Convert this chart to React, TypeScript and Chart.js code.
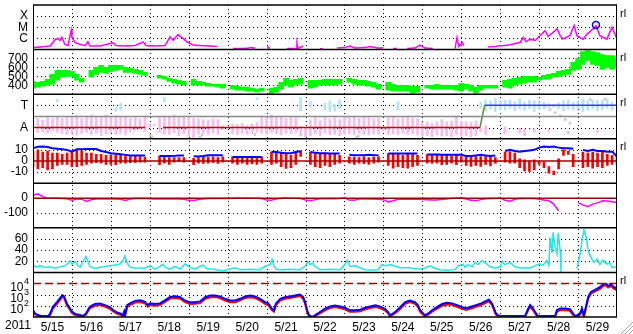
import { useEffect, useRef } from 'react';
import { Chart, registerables } from 'chart.js';
Chart.register(...registerables);

const FONT = '"Liberation Sans", Arial, sans-serif';

// ---- axis labels / ticks ----
const dayLabels = ['5/15','5/16','5/17','5/18','5/19','5/20','5/21','5/22','5/23','5/24','5/25','5/26','5/27','5/28','5/29'];
const yearLabel = '2011';
const STEP = 1 / 8; // 3-hour samples (days)

const xrayTicks = [1e-6, 1e-5, 1e-4];
const xrayTickLabels = ['C', 'M', 'X'];
const speedTicks = [400, 500, 600, 700];
const phiTicks = [135, 315];
const phiTickLabels = ['A', 'T'];
const phiBoundary = 225;
const bTicks = [-10, 0, 10];
const bZero = 0;
const dstTicks = [-100, 0];
const dstZero = 0;
const densTicks = [20, 40, 60];
const eTicks = [100, 1000, 10000];
const eAlert = 10000;
const panelMark = 'rl';

// ---- GOES X-ray flux [day, W/m2] ----
const xray = [
[0.00,1.5e-7],[0.18,1.7e-7],[0.31,1.87e-7],[0.44,2.1e-7],[0.57,8.1e-7],[0.64,1.0e-6],[0.69,6.6e-7],[0.74,1.23e-6],[0.82,2.85e-7],[0.90,2.3e-7],[0.98,5.7e-6],[1.00,1.23e-6],[1.08,4.3e-7],[1.21,2.85e-7],[1.34,2.3e-7],[1.41,5.0e-7],[1.46,2.1e-7],[1.72,2.1e-7],[1.98,3.5e-7],[2.05,4.3e-7],[2.13,2.3e-7],[2.36,2.1e-7],[2.62,2.3e-7],[2.83,4.8e-7],[2.90,2.3e-7],[3.13,2.1e-7],[3.39,2.3e-7],[3.52,1.43e-6],[3.60,6.6e-7],[3.72,2.2e-6],[3.85,1.0e-6],[3.98,4.3e-7],[4.11,2.6e-7],[4.29,2.3e-7],[4.55,2.1e-7],[4.73,1.87e-7],[4.74,null],[5.14,1.23e-7],[5.45,1.23e-7],[5.63,1.5e-7],[5.70,1.23e-7],[5.71,null],[6.02,1.3e-7],[6.04,1.7e-7],[6.06,1.3e-7],[6.07,null],[6.52,1.23e-7],[6.76,1.23e-7],[6.78,3.7e-7],[6.81,1.23e-7],[6.94,2.17e-7],[6.95,null],[7.37,1.11e-7],[7.45,1.23e-7],[7.46,null],[7.81,1.37e-7],[8.01,1.5e-7],[8.14,2.1e-7],[8.27,1.37e-7],[8.53,1.5e-7],[8.66,1.87e-7],[8.84,1.37e-7],[8.99,1.37e-7],[9.00,null],[9.25,1.23e-7],[9.35,1.23e-7],[9.36,null],[9.61,1.23e-7],[9.81,1.37e-7],[9.94,2.46e-7],[10.07,1.37e-7],[10.27,1.23e-7],[10.28,null],[10.84,1.23e-7],[10.89,1.23e-6],[10.94,1.87e-7],[11.02,4.3e-7],[11.07,2.3e-7],[11.08,null],[11.69,1.7e-7],[11.87,1.87e-7],[12.00,2.17e-7],[12.12,2.3e-7],[12.25,2.67e-7],[12.38,3.5e-7],[12.51,4.3e-7],[12.59,1.23e-6],[12.66,5.0e-7],[12.77,8.6e-7],[12.90,6.6e-7],[13.02,1.77e-6],[13.15,5.0e-6],[13.23,1.5e-6],[13.36,3.5e-6],[13.46,7.0e-6],[13.54,1.87e-6],[13.61,8.6e-7],[13.79,1.77e-6],[13.90,1.43e-5],[13.97,1.77e-6],[14.13,8.6e-7],[14.23,2.46e-6],[14.38,7.0e-6],[14.46,1.43e-5],[14.56,1.77e-6],[14.74,8.6e-7],[14.87,1.0e-5],[15.00,8.6e-7]
];
const flare = [[14.46, 1.6e-5]];

// ---- solar wind speed, 3-hourly low/high (km/s) ----
const speedLo = [367,378,389,400,411,456,489,500,500,456, 433,null,489,522,544,533,556,567,578,544, 544,533,522,511,null,null,478,467,444,422, 411,400,null,400,400,400,389,389,378,367, null,356,344,344,333,333,322,333,null,300, 322,356,400,378,400,411,null,367,378,400, 400,400,400,411,null,433,411,400,400,389, 378,356,null,344,333,333,333,333,311,322, null,367,356,356,356,356,356,344,333,356, 333,311,344,367,367,367,null,378,367,400, 411,422,433,433,456,467,467,489,500,511, 522,567,578,633,678,633,622,578,600,578, 600];
const speedHi = [444,433,444,467,522,567,567,567,556,522, 478,null,567,600,622,600,622,622,622,600, 589,578,567,544,null,null,511,500,478,467, 456,444,null,467,444,433,422,411,411,411, null,400,389,378,378,367,356,367,null,367, 378,433,478,456,467,478,null,456,456,456, 467,467,467,467,null,478,467,456,456,444, 433,411,null,433,411,400,400,400,389,389, null,400,400,411,400,400,400,400,422,411, 400,378,400,400,400,400,null,456,467,478, 489,500,500,500,489,511,522,533,556,567, 578,656,700,778,789,778,767,744,733,733, 711];

// ---- IMF angle (deg), 3-hourly low/high: away (pink) and toward (light blue) ----
const awayLo = [110,95,100,90,105,95,85,80,90,75, 85,95,80,90,70,85,95,80,90,75, 100,110,120,105,140,150,95,85,80,95, 70,85,60,50,80,85,75,90,80,120, null,85,77,90,80,85,95,90,80,95, 85,75,90,85,95,65,60,70,85,65, 90,75,80,70,80,85,77,90,80,75, 85,80,110,80,85,77,90,80,85,75, 65,70,61,75,65,70,61,75,65,70, 61,70,100,80,null,null,null,85,null,null, 90,70,null,95,null,null,100,null,null,null, 85,null,null,null,null,null,95,null,null,null, null];
const awayHi = [200,210,195,215,205,220,210,215,225,230, 210,220,235,215,225,237,220,230,215,225, 210,215,205,220,165,160,215,230,220,235, 215,225,220,210,205,200,195,205,200,150, null,165,160,170,150,165,175,230,215,237, 220,225,210,230,215,140,130,200,215,190, 221,205,215,200,221,215,225,210,221,215, 205,210,140,215,221,205,215,221,210,205, 175,181,170,180,200,181,190,221,185,181, 175,190,130,150,null,null,null,140,null,null, 130,120,null,125,null,null,120,null,null,null, 105,null,null,null,null,null,115,null,null,null, null];
const towardLo = [null,null,null,null,null,345,null,null,null,null, null,null,null,null,null,null,null,265,275,null, null,null,null,null,null,null,null,345,null,null, null,null,null,null,null,null,null,null,null,null, null,null,null,null,null,null,360,null,null,null, null,null,null,null,null,270,null,300,null,null, 280,265,270,290,null,null,null,null,null,null, null,null,null,null,null,280,null,null,null,null, null,null,null,null,null,null,null,null,null,null, null,null,290,270,285,265,280,275,290,270, 285,275,290,265,280,285,295,300,290,270, 285,275,290,265,275,285,270,280,290,275, 285];
const towardHi = [null,null,null,null,null,365,null,null,null,null, null,null,null,null,null,null,null,300,330,null, null,null,null,null,null,null,null,380,null,null, null,null,null,null,null,null,null,null,null,null, null,null,null,null,null,null,375,null,null,null, null,null,null,null,null,380,null,345,null,null, 330,350,320,360,null,null,null,null,null,null, null,null,null,null,null,345,null,null,null,null, null,null,null,null,null,null,null,null,null,null, null,null,340,360,350,370,345,355,360,345, 365,340,355,350,345,340,330,325,335,350, 360,340,345,365,350,360,345,355,365,340, 350];
const angleOther = [[3.01,70],[3.06,60],[4.29,60],[4.34,75],[5.70,77],[6.86,285],[8.30,53],[8.35,65],[13.02,315],[13.15,300],[13.28,280],[13.41,255],[13.54,230],[13.67,200],[13.79,170],[14.13,350],[14.31,360],[14.49,345],[14.69,365]];
const sectorAway = [[0, 2.88], [3.34, 11.48]];
const sectorFlip = [11.48, 11.60];
const sectorToward = [[11.60, 15]];

// ---- IMF Bt (3-hourly) and Bz low/high (nT) ----
const bt = [11.4,12.9,13,12.5,11.4,11,10.5,10,8.4,10.5, 10.5,10.8,10.8,10.8,9,8,7,6.5,6,5.5, 5,4.9,4.9,4.9,null,null,4.4,4.4,4.4,4.6, 4.9,4.9,null,4.2,4,4.5,5.2,5.2,5.2,5.2, null,3.7,3.7,3.7,3.7,3.7,3.7,3.7,null,8.2, 8,7.5,7,7,8,8.7,null,8,7.5,7, 7,6.7,6.7,6.7,null,5.5,5.2,5.2,5.2,5.5, 5.2,5.2,null,6.7,6.7,6.7,6.7,6.7,6.7,6.7, null,5.8,5.8,5.8,5.5,5.5,5.5,5.5,5.5,4.5, 4.5,5,5.5,5,4.5,5,null,9,10,9, 8.4,9,9.5,10,12,12.9,12.5,12.9,12,11.4, 11.4,11,null,10,9,10,9,9,8.4,8.4, 4];
const bzLo = [-5,-7,-6,-8,-7,-4,-3,-3,-5,-5, -4,-3,-2,-1.5,-2,-3,-3,-3.4,-2,-2, -1.5,-1.6,-1,-1,null,null,-3.4,-2,-3,-1, -0.5,-1,null,-3.4,-2,-2.2,-2,-1.5,-2.2,-1, null,-2,-3,-2,-3,-2.5,-3.1,-2,null,-3, -2,-5,-6.7,-6,-3,4,null,-3,-5,-6, -4,-5,-3,-2,null,-2,-3.1,-2,-2.5,-3, -2,-1,null,-4,-6.5,-5,-6,-6.5,-5,-4, null,-2,-2.2,-2,-3.4,-3,-2,-3.4,-1,-4, -4.9,-4,-4.9,-3,-4.5,-2,null,-1,-2,-2, -6,-9,-9.3,-8,-3,-6,-11,-12.3,-7,5, 6,-5,null,-6,-5,-6.4,-5,-6,-4,-3, -3];
const bzHi = [9,10,8,9,7,7,6,7,8,10, 9,7,7,6,6,5,5.5,5,5,4.5, 4,4.4,4,3.5,null,null,4.4,4,3,3, 3,3,null,2.5,3,3.7,3.5,3.7,3,3.7, null,3.7,3.5,3,3.7,3,3.5,3.7,null,8, 7,7.5,6,5,8,9,null,8,7,6, 7,6,6.7,5,null,3.7,3.5,3,3.7,3, 3.5,3.7,null,6.7,6,6.7,5,6.7,6,5, null,5.8,5.8,5,5.5,5,4.5,5.5,4,4, 3.5,4,4,4,3.5,3,null,8,8.4,7, 2,1,0,1,0,-1,-5,-9,2,10, 9,6,null,8,7,8,7,8,6,5, 4];

// ---- Dst (nT), 3-hourly ----
const dst = [20,29,10,0,0,-1,-2,-4,-14,-8, -7,-22,-9,-5,-4,-5,-5,-6,-7,-15, -6,-3,-3,-3,-4,-6,-6,-6,-5,-5, -5,-8,-15,-16,-9,-6,-3,-3,-3,-2, -2,0,1,0,1,0,0,-2,-12,-14, -5,0,1,0,0,-2,-12,-17,-10,-4, -4,-3,-4,-3,2,-12,-14,-6,-6,-5, -6,-7,-10,-25,-18,-8,-7,-6,-7,-8, -9,-10,-12,-12,-8,-6,-1,0,3,-6, -14,-18,-10,-4,-3,-2,0,-14,-20,-8, -3,-2,-2,-3,-8,-12,-18,-40,-85,null, null,null,-30,-45,-58,-40,-32,-18,-20,-25, -30];

// ---- proton density (/cc) [day, value] ----
const density = [
[0.00,14],[0.08,9.5],[0.18,12],[0.31,9],[0.44,10],[0.57,7.7],[0.69,10],[0.82,12],[0.90,16.6],[0.95,21],
[1.00,14.8],[1.08,19.5],[1.16,12],[1.21,9.5],[1.28,19.5],[1.36,28.4],[1.41,19.5],[1.46,10.7],[1.59,7.1],[1.72,9.5],
[1.85,10.7],[1.98,12],[2.11,13.5],[2.23,15],[2.31,21],[2.36,30],[2.41,18],[2.49,9.5],[2.62,8],[2.75,8],
[2.88,8],[3.01,12],[3.13,6],[3.26,10.7],[3.34,15],[3.39,9.5],[3.52,6],[3.65,10.7],[3.78,6],[3.90,15],
[4.03,9],[4.16,6],[4.29,11],[4.37,13],[4.47,6],[4.60,6],[4.80,4],[4.93,3.5],[5.06,6],[5.19,8.5],
[5.32,5],[5.57,5.5],[5.83,5],[5.96,11],[6.09,14],[6.14,23.7],[6.19,11],[6.24,6],[6.34,5],[6.60,5.5],
[6.86,5],[6.99,11],[7.06,19.5],[7.12,14],[7.17,17],[7.24,11],[7.37,5],[7.63,5.5],[7.89,5],[8.01,14],
[8.07,22],[8.14,11],[8.27,12],[8.40,8.5],[8.53,5],[8.71,4.5],[8.86,5],[8.96,14],[9.07,12],[9.17,14],
[9.30,11],[9.43,8.5],[9.68,8.5],[9.81,6],[9.94,6],[10.07,8],[10.20,12],[10.33,7],[10.45,5],[10.66,4],
[10.84,5],[10.92,12],[11.05,15],[11.10,9],[11.17,14],[11.28,10],[11.35,18],[11.43,14],[11.53,21],[11.64,16],
[11.74,10],[11.87,8],[12.00,10],[12.05,20],[12.12,14],[12.25,18],[12.38,10],[12.51,8],[12.64,8.5],[12.77,8],
[12.90,12],[13.02,15.4],[13.10,13],[13.20,21],[13.25,12],[13.28,63],[13.33,35],[13.36,72],[13.41,45],[13.46,33],
[13.49,71],[13.54,40],[13.56,1],[13.57,null],[13.97,7],[14.00,16],[14.05,33],[14.10,57],[14.15,76],[14.21,63],
[14.26,39],[14.33,27],[14.41,18],[14.49,24],[14.56,14],[14.64,22],[14.74,15],[14.82,17],[14.87,9],[15.00,10]
];

// ---- electron flux >2MeV [day, satellite A, satellite B] ----
const electrons = [
[0.00,42,32],[0.05,21,17],[0.13,15,13],[0.23,12,11],[0.39,12,11],[0.44,20,15],[0.51,83,58],[0.62,230,160],[0.69,460,330],[0.75,910,640],
[0.80,700,500],[0.87,166,120],[0.95,59,42],[1.00,30,23],[1.08,19,15],[1.21,15,12],[1.28,12,11],[1.36,21,16],[1.46,83,60],[1.59,145,100],
[1.72,166,118],[1.85,117,85],[1.98,74,52],[2.06,42,31],[2.16,25,19],[2.24,21,16],[2.31,15,12],[2.34,30,22],[2.36,12,11],[2.42,117,82],
[2.49,166,118],[2.62,280,200],[2.75,316,220],[2.88,230,165],[2.95,117,85],[3.01,166,120],[3.13,145,102],[3.26,166,118],[3.39,316,225],[3.52,630,450],
[3.65,710,500],[3.78,600,430],[3.90,300,215],[4.03,214,150],[4.16,214,155],[4.29,250,180],[4.42,600,420],[4.55,850,600],[4.68,850,610],[4.80,700,500],
[4.93,430,300],[5.06,300,215],[5.19,300,210],[5.32,430,310],[5.45,700,500],[5.57,850,600],[5.70,700,500],[5.83,430,305],[5.96,214,150],[6.04,166,118],
[6.14,55,40],[6.19,40,30],[6.24,166,115],[6.35,430,300],[6.47,600,430],[6.60,700,500],[6.73,850,610],[6.86,1050,750],[6.94,600,420],[6.99,214,150],
[7.04,40,30],[7.09,14,12],[7.17,10,10],[7.24,14,12],[7.37,28,21],[7.50,55,40],[7.63,89,63],[7.76,110,78],[7.89,89,64],[8.01,68,48],
[8.14,40,30],[8.27,40,29],[8.40,45,33],[8.53,68,48],[8.66,89,63],[8.79,110,78],[8.91,89,63],[9.04,55,40],[9.12,28,21],[9.17,14,12],
[9.25,21,16],[9.35,40,29],[9.43,74,52],[9.56,214,150],[9.68,300,215],[9.81,214,152],[9.89,110,78],[9.94,40,30],[10.02,21,16],[10.07,14,12],
[10.15,21,16],[10.25,40,30],[10.38,80,57],[10.51,145,103],[10.63,186,132],[10.76,166,118],[10.89,117,83],[10.99,83,60],[11.12,59,42],[11.25,83,58],
[11.38,117,84],[11.51,166,118],[11.64,280,200],[11.71,355,250],[11.79,166,118],[11.84,59,42],[11.89,21,16],[11.94,15,12],[12.00,12,11],[12.25,12,11],
[12.51,12,11],[12.64,12,11],[12.72,59,42],[12.77,117,82],[12.84,59,42],[12.92,21,16],[12.97,12,11],[13.02,12,11],[13.23,12,11],[13.41,12,11],
[13.46,42,30],[13.54,59,42],[13.67,59,41],[13.79,50,36],[13.87,21,16],[13.92,12,11],[14.00,15,12],[14.05,21,16],[14.10,59,42],[14.15,12,11],
[14.21,117,80],[14.26,630,430],[14.33,1780,1250],[14.41,2500,1800],[14.49,3550,2500],[14.57,5000,3500],[14.64,8500,6000],[14.72,10000,7000],[14.77,6300,4400],[14.85,8500,6000],
[14.92,5000,3500],[15.00,3550,2500]
];

// ---------------- helpers ----------------
const band = (lo, hi) => lo.map((l, i) => (l == null || hi[i] == null ? null : { x: i * STEP, y: [l, hi[i]] })).filter(Boolean);
const series3h = (vals) => vals.map((v, i) => ({ x: i * STEP, y: v }));
const pairs = (rows, col = 1) => rows.map((r) => ({ x: r[0], y: r[col] }));
const segments = (segs, level) => {
  const out = [];
  segs.forEach(([a, b], k) => {
    if (k > 0) out.push({ x: a, y: null });
    out.push({ x: a, y: level }, { x: b, y: level });
  });
  return out;
};

const lineDs = (label, data, yAxisID, color, width = 1.5, extra = {}) => ({
  type: 'line', label, data, yAxisID, borderColor: color, backgroundColor: color,
  borderWidth: width, pointRadius: 0, pointHoverRadius: 0, tension: 0, spanGaps: false, fill: false, ...extra,
});
const barDs = (label, data, yAxisID, color, thickness) => ({
  type: 'bar', label, data, yAxisID, backgroundColor: color, borderWidth: 0,
  grouped: false, barThickness: thickness,
});

const yScale = (ticks, extra = {}) => ({
  position: 'left', stack: 'panels', stackWeight: 1, offset: false,
  grid: { display: false, drawTicks: false },
  border: { display: false },
  ticks: { autoSkip: false, padding: 5, color: '#000', font: { family: FONT, size: 12 } },
  afterBuildTicks: (s) => { s.ticks = ticks.map((value) => ({ value })); },
  afterFit: (s) => { s.width = 33; s.paddingTop = 0; s.paddingBottom = 0; },
  ...extra,
});

const panelIds = ['yX', 'ySpeed', 'yPhi', 'yB', 'yDst', 'yN', 'yE'];
const dottedLevels = {
  yX: xrayTicks, ySpeed: speedTicks, yPhi: phiTicks,
  yB: bTicks.filter((v) => v !== bZero), yDst: dstTicks.filter((v) => v !== dstZero),
  yN: densTicks, yE: eTicks.filter((v) => v !== eAlert),
};
const refLines = [
  { id: 'yPhi', value: phiBoundary, color: '#8a8a8a', dash: [] },
  { id: 'yB', value: bZero, color: '#a00000', dash: [] },
  { id: 'yDst', value: dstZero, color: '#a00000', dash: [] },
  { id: 'yE', value: eAlert, color: '#a00000', dash: [8, 4] },
];
const markedPanels = ['yX', 'ySpeed', 'yPhi', 'yB', 'yE'];

const framePlugin = {
  id: 'frame',
  beforeDatasetsDraw(chart) {
    const { ctx, chartArea: ca, scales } = chart;
    ctx.save();
    ctx.strokeStyle = '#000';
    ctx.lineWidth = 1;
    ctx.setLineDash([1, 3]);
    ctx.beginPath();
    for (let d = 1; d < dayLabels.length; d++) {
      const x = Math.round(scales.x.getPixelForValue(d)) + 0.5;
      ctx.moveTo(x, ca.top);
      ctx.lineTo(x, ca.bottom);
    }
    for (const id of panelIds) {
      const s = scales[id];
      for (const v of dottedLevels[id]) {
        const y = Math.round(s.getPixelForValue(v)) + 0.5;
        ctx.moveTo(ca.left, y);
        ctx.lineTo(ca.right, y);
      }
    }
    ctx.stroke();
    ctx.restore();
  },
  afterDatasetsDraw(chart) {
    const { ctx, chartArea: ca, scales } = chart;
    ctx.save();
    for (const r of refLines) {
      const y = scales[r.id].getPixelForValue(r.value);
      ctx.strokeStyle = r.color;
      ctx.lineWidth = 1.5;
      ctx.setLineDash(r.dash);
      ctx.beginPath();
      ctx.moveTo(ca.left, y);
      ctx.lineTo(ca.right, y);
      ctx.stroke();
    }
    ctx.setLineDash([]);
    ctx.strokeStyle = '#000';
    ctx.lineWidth = 1.5;
    ctx.beginPath();
    for (const id of panelIds) {
      const s = scales[id];
      ctx.moveTo(ca.left, s.top);
      ctx.lineTo(ca.right, s.top);
      ctx.moveTo(ca.left, s.bottom);
      ctx.lineTo(ca.right, s.bottom);
    }
    ctx.stroke();
    ctx.lineWidth = 1;
    ctx.beginPath();
    ctx.moveTo(Math.round(ca.left) + 0.5, ca.top);
    ctx.lineTo(Math.round(ca.left) + 0.5, ca.bottom);
    ctx.moveTo(Math.round(ca.right) - 0.5, ca.top);
    ctx.lineTo(Math.round(ca.right) - 0.5, ca.bottom);
    ctx.stroke();
    const sE = scales.yE;
    ctx.fillStyle = '#000';
    for (const v of eTicks) {
      const y = sE.getPixelForValue(v);
      ctx.font = `12px ${FONT}`;
      ctx.textAlign = 'right';
      ctx.textBaseline = 'middle';
      ctx.fillText('10', 23.5, y + 4);
      ctx.font = `9px ${FONT}`;
      ctx.textAlign = 'left';
      ctx.fillText(String(Math.round(Math.log10(v))), 24, y - 2.5);
    }
    ctx.font = `12px ${FONT}`;
    ctx.textAlign = 'left';
    ctx.textBaseline = 'middle';
    ctx.fillText(yearLabel, 5, ca.bottom + 8.5);
    ctx.font = `11px ${FONT}`;
    for (const id of markedPanels) {
      ctx.fillText(panelMark, ca.right + 3, scales[id].top + 8.5);
    }
    const W = chart.width, H = chart.height;
    ctx.strokeStyle = '#a0a0a0';
    ctx.lineWidth = 1;
    ctx.beginPath();
    for (const k of [4, 8, 12]) {
      ctx.moveTo(W - k, H);
      ctx.lineTo(W, H - k);
    }
    ctx.stroke();
    ctx.restore();
  },
};

export default function App() {
  const ref = useRef(null);
  useEffect(() => {
    const datasets = [
      lineDs('flare', pairs(flare), 'yX', '#0000ff', 1.5, {
        showLine: false, pointRadius: 3.5, pointBorderWidth: 1.5,
        pointBorderColor: '#0000ff', pointBackgroundColor: 'rgba(0,0,0,0)',
      }),
      lineDs('sector away', segments(sectorAway, phiTicks[0]), 'yPhi', '#c80000', 1.5),
      lineDs('sector flip', [{ x: sectorFlip[0], y: phiTicks[0] }, { x: sectorFlip[1], y: phiTicks[1] }], 'yPhi', '#4d8f4d', 1.5),
      lineDs('sector toward', segments(sectorToward, phiTicks[1]), 'yPhi', '#3a3af0', 1.5),
      lineDs('Bt', series3h(bt), 'yB', '#0000ff', 2),
      lineDs('e- A', pairs(electrons, 1), 'yE', '#0000ff', 2),
      lineDs('e- B', pairs(electrons, 2), 'yE', '#ff0000', 2),
      lineDs('X-ray', pairs(xray), 'yX', '#ff00ff', 1.5),
      lineDs('Dst', series3h(dst), 'yDst', '#ff00ff', 1.5),
      lineDs('Np', pairs(density), 'yN', '#22e6e6', 1.5),
      barDs('speed', band(speedLo, speedHi), 'ySpeed', '#00ff00', 5),
      barDs('Bz', band(bzLo, bzHi), 'yB', '#ff0000', 2),
      barDs('toward', band(towardLo, towardHi), 'yPhi', '#b4e4f8', 2),
      barDs('away', band(awayLo, awayHi), 'yPhi', '#f6bcf0', 2),
      lineDs('other', pairs(angleOther), 'yPhi', '#c8c8c8', 1, { showLine: false, pointRadius: 1.2, pointStyle: 'rect' }),
    ];

    const chart = new Chart(ref.current, {
      type: 'line',
      data: { datasets },
      plugins: [framePlugin],
      options: {
        responsive: false,
        animation: false,
        devicePixelRatio: 1,
        events: [],
        layout: { padding: { left: 0, right: 16, top: 3, bottom: 0 } },
        plugins: { legend: { display: false }, tooltip: { enabled: false } },
        font: { family: FONT },
        scales: {
          yE: yScale(eTicks, { type: 'logarithmic', min: 10, max: 1e5, ticks: { display: false } }),
          yN: yScale(densTicks, { type: 'linear', min: 0, max: 80 }),
          yDst: yScale(dstTicks, { type: 'linear', min: -200, max: 100 }),
          yB: yScale(bTicks, { type: 'linear', min: -20, max: 20 }),
          yPhi: yScale(phiTicks, {
            type: 'linear', min: 45, max: 405,
            ticks: { autoSkip: false, padding: 5, color: '#000', font: { family: FONT, size: 12 }, callback: (v, i) => phiTickLabels[i] },
          }),
          ySpeed: yScale(speedTicks, { type: 'linear', min: 300, max: 800 }),
          yX: yScale(xrayTicks, {
            type: 'logarithmic', min: 1e-7, max: 1e-3,
            ticks: { autoSkip: false, padding: 5, color: '#000', font: { family: FONT, size: 12 }, callback: (v, i) => xrayTickLabels[i] },
          }),
          x: {
            type: 'linear', position: 'bottom', min: 0, max: dayLabels.length,
            offset: false,
            grid: { display: false, drawTicks: false, offset: false },
            border: { display: false },
            ticks: {
              autoSkip: false, maxRotation: 0, minRotation: 0, padding: 3, color: '#000',
              font: { family: FONT, size: 12 },
              callback: (v, i) => dayLabels[i],
            },
            afterBuildTicks: (s) => { s.ticks = dayLabels.map((_, i) => ({ value: i + 0.5 })); },
            afterFit: (s) => { s.height = 17; s.paddingLeft = 0; s.paddingRight = 0; },
          },
        },
      },
    });
    return () => chart.destroy();
  }, []);

  return (
    <div style={{ position: 'absolute', left: 0, top: 0, width: 633, height: 334, background: '#fff' }}>
      <canvas ref={ref} width={633} height={334} style={{ display: 'block', width: 633, height: 334 }} />
    </div>
  );
}
